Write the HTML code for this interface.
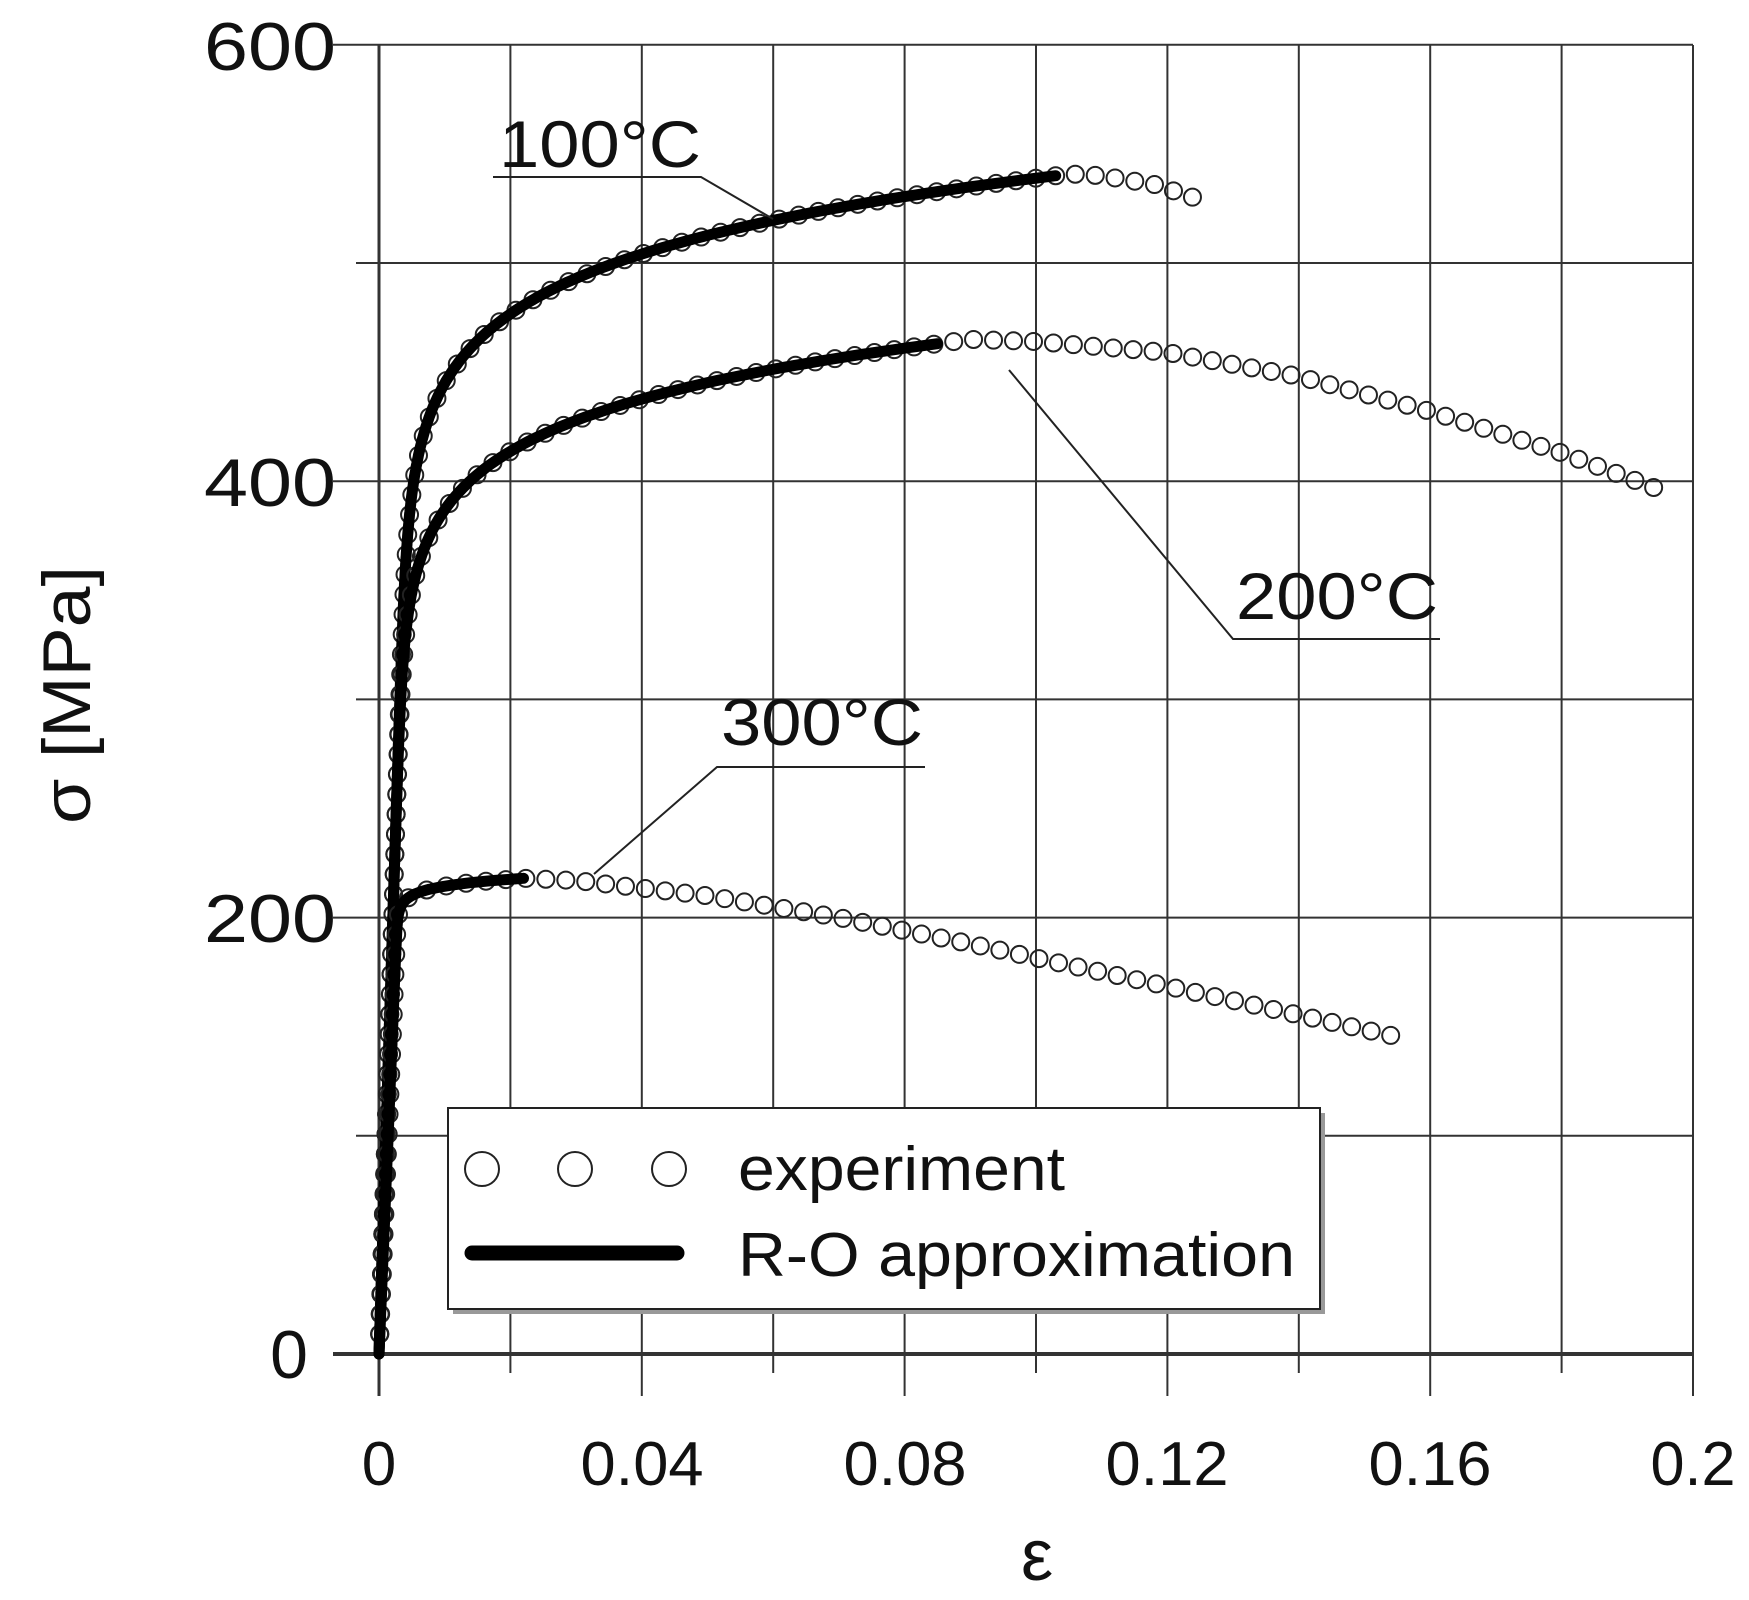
<!DOCTYPE html>
<html><head><meta charset="utf-8"><style>
html,body{margin:0;padding:0;background:#fff;}
svg{display:block;}
text{font-family:"Liberation Sans",Arial,sans-serif;fill:#111;}
</style></head><body>
<svg id="s" width="1749" height="1600" viewBox="0 0 1749 1600" xmlns="http://www.w3.org/2000/svg">
<g id="grid" stroke="#333" stroke-width="2" fill="none"></g>
<g id="data"></g>
<g font-size="68" text-anchor="end">
<text x="336" y="70" textLength="132" lengthAdjust="spacingAndGlyphs">600</text>
<text x="336" y="506" textLength="132" lengthAdjust="spacingAndGlyphs">400</text>
<text x="336" y="942" textLength="132" lengthAdjust="spacingAndGlyphs">200</text>
<text x="308" y="1378">0</text>
</g>
<g font-size="62" text-anchor="middle">
<text x="379" y="1485">0</text>
<text x="642" y="1485" textLength="123" lengthAdjust="spacingAndGlyphs">0.04</text>
<text x="905" y="1485" textLength="123" lengthAdjust="spacingAndGlyphs">0.08</text>
<text x="1167" y="1485" textLength="123" lengthAdjust="spacingAndGlyphs">0.12</text>
<text x="1430" y="1485" textLength="123" lengthAdjust="spacingAndGlyphs">0.16</text>
<text x="1693" y="1485" textLength="85" lengthAdjust="spacingAndGlyphs">0.2</text>
</g>
<text x="1037" y="1580" font-size="72" text-anchor="middle" font-family="Liberation Serif,serif">ε</text>
<text transform="translate(90,695) rotate(-90)" font-size="68" text-anchor="middle" textLength="258" lengthAdjust="spacingAndGlyphs">σ [MPa]</text>
<g font-size="66">
<text x="499" y="167" textLength="202" lengthAdjust="spacingAndGlyphs">100°C</text>
<text x="1236" y="619" textLength="202" lengthAdjust="spacingAndGlyphs">200°C</text>
<text x="721" y="745" textLength="202" lengthAdjust="spacingAndGlyphs">300°C</text>
</g>
<g stroke="#222" stroke-width="2" fill="none">
<polyline points="493,177 701,177 773,219"/>
<polyline points="1440,639 1233,639 1009,370"/>
<polyline points="925,767 717,767 594,874"/>
</g>
<rect x="453" y="1113" width="872" height="201" fill="#999"/>
<rect x="448" y="1108" width="872" height="201" fill="#fff" stroke="#222" stroke-width="2"/>
<g fill="none" stroke="#222" stroke-width="2">
<circle cx="482" cy="1169" r="17"/><circle cx="575" cy="1169" r="17"/><circle cx="669" cy="1169" r="17"/>
</g>
<line x1="472" y1="1253" x2="677" y2="1253" stroke="#000" stroke-width="15" stroke-linecap="round"/>
<text x="738" y="1190" font-size="62" textLength="327" lengthAdjust="spacingAndGlyphs">experiment</text>
<text x="738" y="1276" font-size="62" textLength="557" lengthAdjust="spacingAndGlyphs">R-O approximation</text>
</svg>
<script>
var X=function(e){return 379+e*6570;},Y=function(s){return 1354-s*2.182;};
var ns="http://www.w3.org/2000/svg";
function el(p,t,a){var e=document.createElementNS(ns,t);for(var k in a)e.setAttribute(k,a[k]);p.appendChild(e);return e;}
var g=document.getElementById('grid'),d=document.getElementById('data');
for(var i=0;i<=10;i++){var x=X(i*0.02);el(g,'line',{x1:x,y1:45,x2:x,y2:(i%2==0?1396:1373)});}
for(var j=0;j<=6;j++){var y=Y(j*100);el(g,'line',{x1:(j%2==0?333:356),y1:y,x2:1693,y2:y});}
el(g,'line',{x1:379,y1:45,x2:379,y2:1396,'stroke-width':3});
el(g,'line',{x1:333,y1:1354,x2:1693,y2:1354,'stroke-width':4});
function ro(s,sm,em,n,E){return s/E+(em-sm/E)*Math.pow(s/sm,n);}
function roPts(sm,em,n,E){var p=[];for(var s=0;s<=sm+0.01;s+=1){p.push([ro(s,sm,em,n,E),s]);}return p;}
var curves=[
 {ro:roPts(540,0.103,15,95000),tail:[[0.104,541],[0.11,540],[0.118,536],[0.124,530]]},
 {ro:roPts(463,0.085,14.5,95000),tail:[[0.09,465],[0.1,464],[0.12,459],[0.14,448],[0.16,432],[0.18,413],[0.195,396]]},
 {ro:roPts(218,0.022,60,72000),tail:[[0.03,217],[0.05,210],[0.07,200],[0.09,188],[0.11,175],[0.13,162],[0.154,146]]}
];
curves.forEach(function(c){
 var pts=c.ro.concat(c.tail).map(function(p){return [X(p[0]),Y(p[1])];});
 var acc=0,sp=20;
 for(var k=1;k<pts.length;k++){
  var dx=pts[k][0]-pts[k-1][0],dy=pts[k][1]-pts[k-1][1],L=Math.sqrt(dx*dx+dy*dy),t=0;
  while(acc+L-t>=sp){t+=sp-acc;acc=0;var f=t/L;
   el(d,'circle',{cx:pts[k-1][0]+dx*f,cy:pts[k-1][1]+dy*f,r:8.5,fill:'none',stroke:'#222','stroke-width':2});}
  acc+=L-t;
 }
 var rp=c.ro.map(function(p){return X(p[0]).toFixed(1)+','+Y(p[1]).toFixed(1);}).join(' ');
 el(d,'polyline',{points:rp,fill:'none',stroke:'#000','stroke-width':11,'stroke-linecap':'round','stroke-linejoin':'round'});
});
</script>
</body></html>
